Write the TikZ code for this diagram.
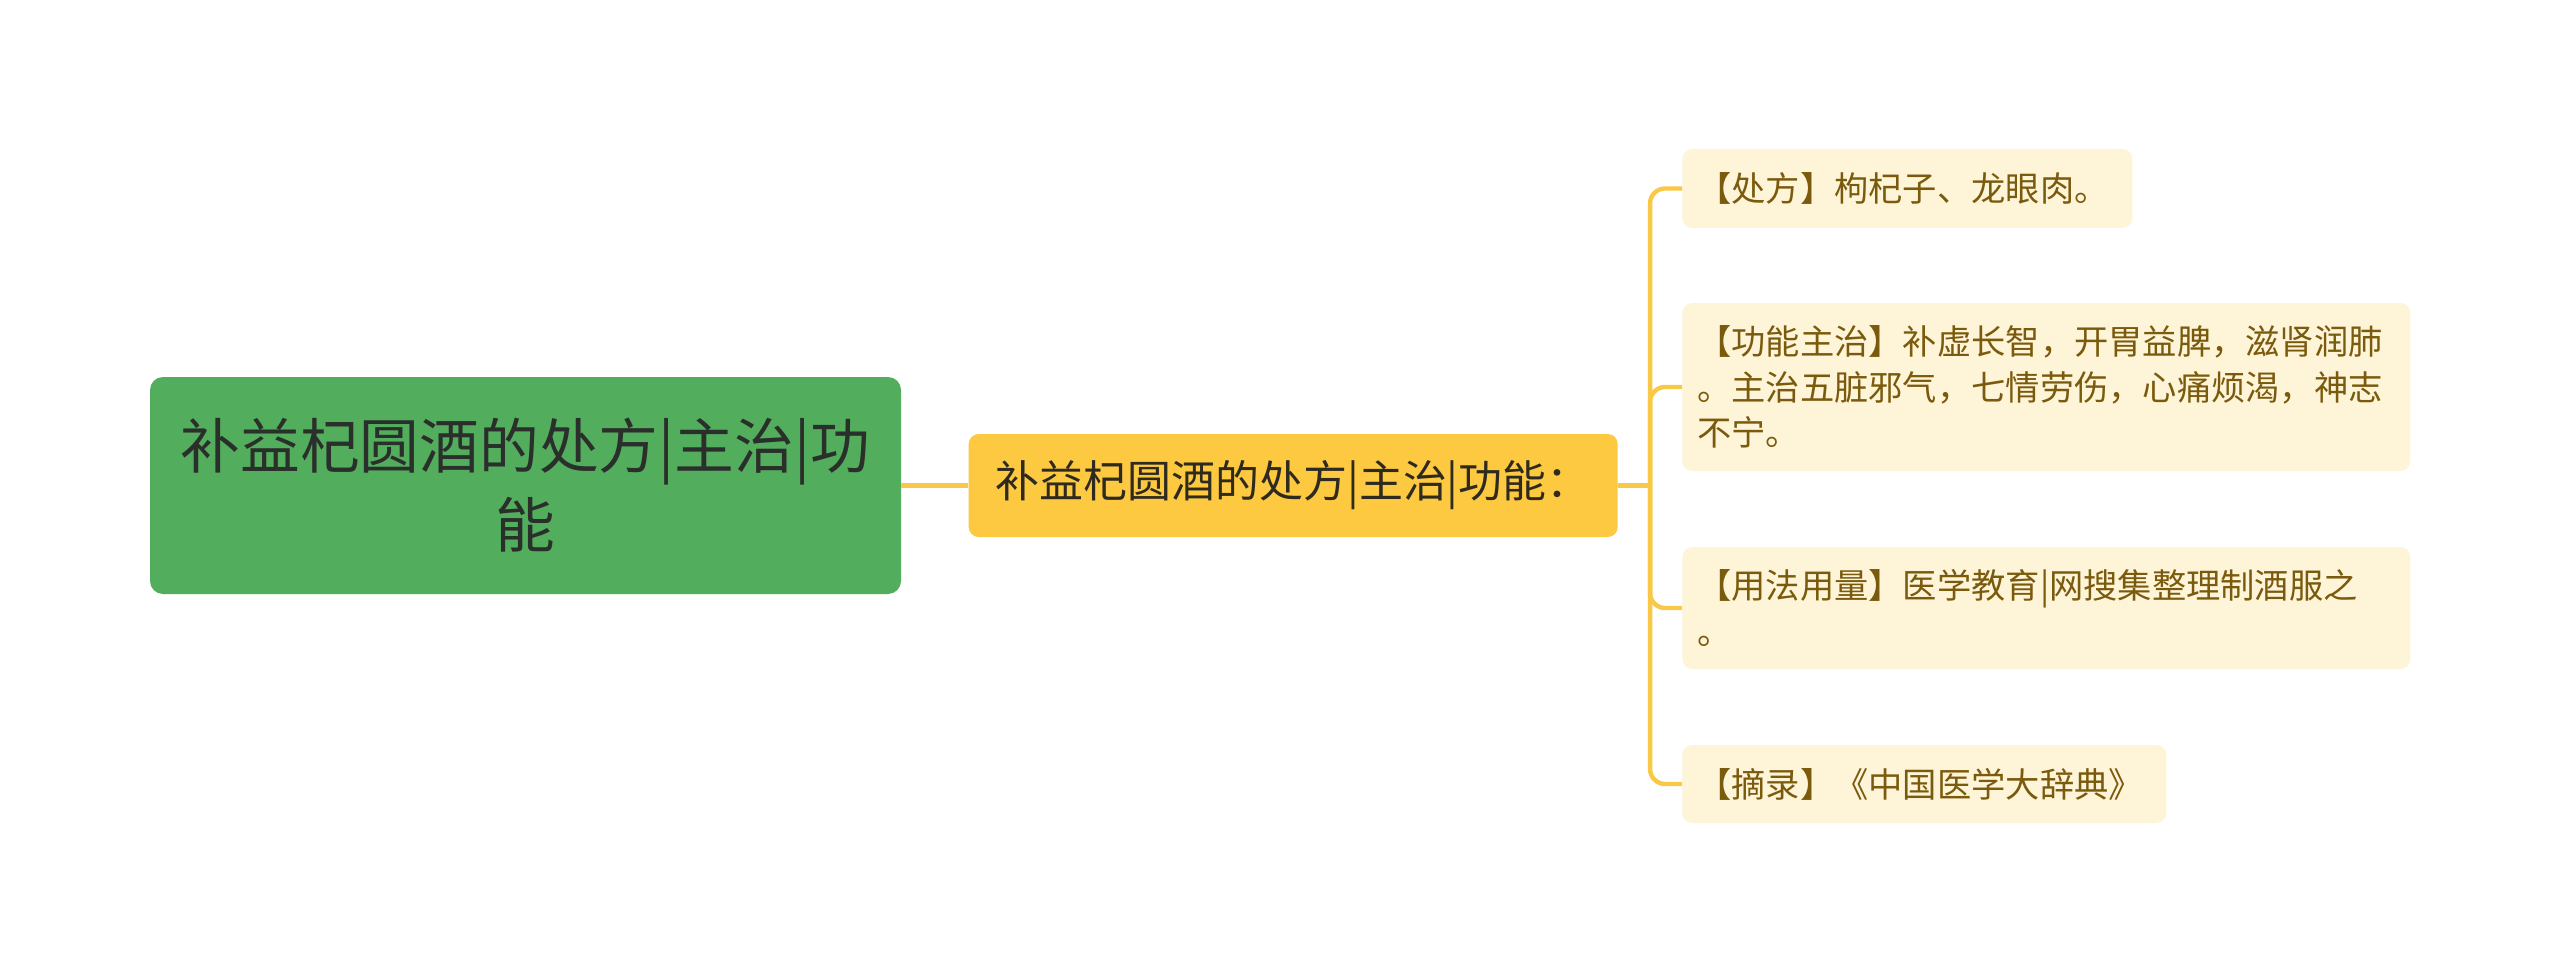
\documentclass[tikz,border=0pt]{standalone}
\usepackage{fontspec}
\newfontfamily\cjk{Noto Sans CJK SC}
\usetikzlibrary{positioning}
\definecolor{RootGreen}{HTML}{52AE5D}
\definecolor{RootInk}{HTML}{2B2F2B}
\definecolor{MidGold}{HTML}{FDC940}
\definecolor{MidInk}{HTML}{2E2A1E}
\definecolor{LeafCream}{HTML}{FEF4D8}
\definecolor{LeafInk}{HTML}{7A5A0C}
\definecolor{LinkGold}{HTML}{F9C846}

\begin{document}
\begin{tikzpicture}[
    topic/.style={fill=RootGreen,rounded corners=0.26cm,minimum width=15.02cm,
      minimum height=4.34cm,align=center,text=RootInk,
      font=\cjk\fontsize{34}{45}\selectfont},
    subtopic/.style={fill=MidGold,rounded corners=0.2cm,minimum width=12.98cm,
      minimum height=2.06cm,text=MidInk,font=\cjk\fontsize{25}{30}\selectfont},
    leaf/.style={fill=LeafCream,rounded corners=0.2cm,anchor=west,align=left,
      inner xsep=0.3cm,text=LeafInk,font=\cjk\fontsize{19.5}{26}\selectfont},
    link/.style={draw=LinkGold,line width=2.5pt,rounded corners=0.3cm}
  ]
    \fill[white] (0,0) rectangle (51.2,-19.46);
    \node[topic] (wine) at (10.51,-9.71) {补益杞圆酒的处方|主治|功\\能};
    \node[subtopic,right=1.34cm of wine] (summary) {补益杞圆酒的处方|主治|功能：};
    \coordinate[right=0.64cm of summary.east] (trunk);
    \node[leaf,text width=8.4cm,minimum height=1.58cm] (recipe) at (33.64,-3.77)
      {【处方】枸杞子、龙眼肉。};
    \node[leaf,text width=13.96cm,minimum height=3.36cm] (effect) at (33.64,-7.74)
      {【功能主治】补虚长智，开胃益脾，滋肾润肺\\。主治五脏邪气，七情劳伤，心痛烦渴，神志\\不宁。};
    \node[leaf,text width=13.96cm,minimum height=2.44cm] (usage) at (33.64,-12.16)
      {【用法用量】医学教育|网搜集整理制酒服之\\。};
    \node[leaf,text width=9.08cm,minimum height=1.56cm] (source) at (33.64,-15.68)
      {【摘录】《中国医学大辞典》};
    \draw[link] (wine) -- (summary);
    \draw[link] (summary.east) -- (trunk);
    \draw[link] (trunk) |- (recipe.west);
    \draw[link] (trunk) |- (effect.west);
    \draw[link] (trunk) |- (usage.west);
    \draw[link] (trunk) |- (source.west);
  \end{tikzpicture}
\end{document}
